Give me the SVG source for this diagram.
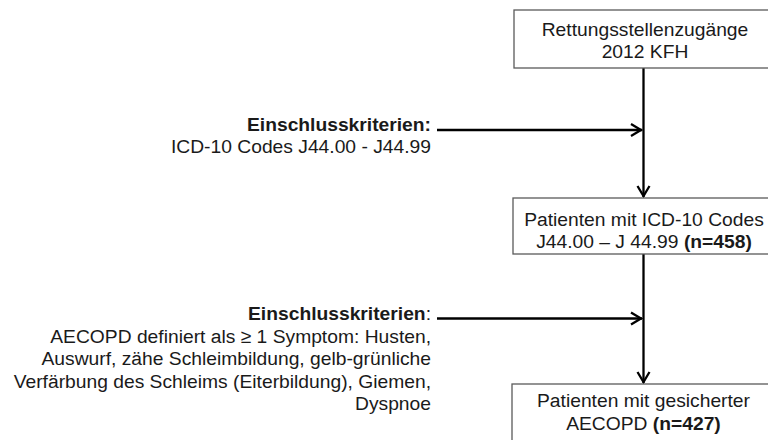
<svg xmlns="http://www.w3.org/2000/svg" width="768" height="440" viewBox="0 0 768 440">
  <style>
    .box { fill: #ffffff; stroke: #5a5a5a; stroke-width: 1.3; }
    .t { font-family: "Liberation Sans", Arial, Helvetica, sans-serif; font-size: 19.25px; fill: #1a1a1a; }
    .c { text-anchor: middle; }
    .r { text-anchor: end; }
    .b { font-weight: bold; }
    .ln { stroke: #000; stroke-width: 2.3; fill: none; }
  </style>
  <defs>
    <marker id="ah" markerUnits="userSpaceOnUse" markerWidth="16" markerHeight="16" viewBox="-14 -8 16 16" refX="0" refY="0" orient="auto">
      <path d="M-11,-6 L-1,0 L-11,6" fill="none" stroke="#000" stroke-width="2.3" stroke-linejoin="miter"/>
    </marker>
  </defs>
  <rect width="768" height="440" fill="#ffffff"/>

  <g id="connectors">
    <line class="ln" x1="643.5" y1="68" x2="643.5" y2="197" marker-end="url(#ah)"/>
    <line class="ln" x1="437" y1="130" x2="642" y2="130" marker-end="url(#ah)"/>
    <line class="ln" x1="643.5" y1="254" x2="643.5" y2="383" marker-end="url(#ah)"/>
    <line class="ln" x1="437" y1="318.5" x2="642" y2="318.5" marker-end="url(#ah)"/>
  </g>

  <g id="node-rettungsstelle">
    <rect class="box" x="514" y="10" width="262" height="58"/>
    <text class="t c" x="645" y="36">Rettungsstellenzugänge</text>
    <text class="t c" x="645" y="57.5">2012 KFH</text>
  </g>

  <g id="node-patienten-icd">
    <rect class="box" x="513" y="198" width="262" height="56"/>
    <text class="t c" x="644" y="226">Patienten mit ICD-10 Codes</text>
    <text class="t c" x="644" y="247.5">J44.00 – J 44.99 <tspan class="b">(n=458)</tspan></text>
  </g>

  <g id="node-aecopd">
    <rect class="box" x="512" y="384" width="264" height="70"/>
    <text class="t c" x="643.5" y="407">Patienten mit gesicherter</text>
    <text class="t c" x="643.5" y="430">AECOPD <tspan class="b">(n=427)</tspan></text>
  </g>

  <g id="label-kriterien-1">
    <text class="t r b" x="431" y="131">Einschlusskriterien:</text>
    <text class="t r" x="431" y="152.5">ICD-10 Codes J44.00 - J44.99</text>
  </g>

  <g id="label-kriterien-2">
    <text class="t r" x="431" y="319.5"><tspan class="b">Einschlusskriterien</tspan>:</text>
    <text class="t r" x="431" y="342.5">AECOPD definiert als ≥ 1 Symptom: Husten,</text>
    <text class="t r" x="431" y="365">Auswurf, zähe Schleimbildung, gelb-grünliche</text>
    <text class="t r" x="431" y="387.5">Verfärbung des Schleims (Eiterbildung), Giemen,</text>
    <text class="t r" x="431" y="410">Dyspnoe</text>
  </g>
</svg>
